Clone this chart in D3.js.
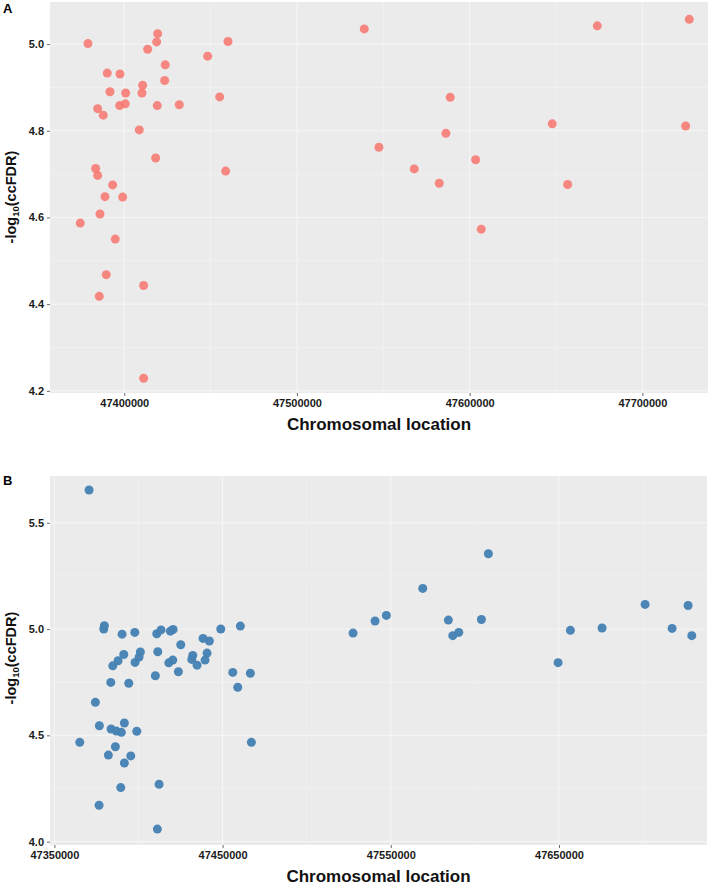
<!DOCTYPE html>
<html><head><meta charset="utf-8">
<script src="https://cdn.jsdelivr.net/npm/d3@7"></script>
<style>html,body{margin:0;padding:0;background:#fff;}svg{display:block;font-family:"Liberation Sans",Arial,sans-serif;}</style>
</head><body>
<svg id="chart" width="711" height="885"></svg>
<script>
// Panel A data
const aPos = [47378980,47419340,47418760,47413550,47460040,47448290,47423740,47390160,47397510,47423390,
  47410650,47391720,47400810,47410250,47455240,47384600,47397340,47400580,47419110,47431850,
  47387840,47408690,47418180,47458710,47383440,47384600,47393280,47388830,47399070,47385930,
  47374520,47394790,47389580,47411230,47385520,47411230,
  47538960,47673890,47727140,47588760,47647820,47725050,47586260,47547470,47603460,47567900,
  47582390,47656740,47606710];
const aVal = [5.001,5.024,5.005,4.988,5.006,4.972,4.952,4.933,4.931,4.916,
  4.905,4.890,4.887,4.887,4.878,4.851,4.858,4.862,4.858,4.860,
  4.836,4.802,4.737,4.707,4.713,4.697,4.675,4.648,4.647,4.608,
  4.587,4.550,4.468,4.443,4.418,4.229,
  5.035,5.042,5.057,4.877,4.816,4.811,4.794,4.762,4.733,4.712,
  4.679,4.676,4.573];
// Panel B data
const bPos = [47370630,47379730,47379370,47390250,47397800,47410880,47413430,47418960,47420570,47448930,
  47460580,47425140,47438400,47442150,47411480,47391260,47401130,47440780,47387870,47384720,
  47400350,47397980,47418010,47420390,47432280,47431680,47434830,47439590,47423720,47410040,
  47383530,47394230,47456060,47466520,47459030,47374380,47376750,47383710,47386860,47389830,
  47391610,47398990,47365100,47386270,47382100,47395420,47391610,47389470,47412250,47376570,
  47411240,47467120,
  47527580,47540650,47547380,47569000,47584240,47586850,47590420,47603870,47608030,47649480,
  47656790,47675620,47701200,47717250,47726760,47728960];
const bVal = [5.654,5.016,5.000,4.976,4.984,4.978,4.996,4.990,4.998,5.000,
  5.014,4.926,4.956,4.944,4.893,4.880,4.892,4.887,4.851,4.827,
  4.868,4.843,4.841,4.854,4.876,4.857,4.830,4.854,4.799,4.780,
  4.749,4.745,4.796,4.792,4.726,4.655,4.545,4.530,4.520,4.514,
  4.558,4.519,4.467,4.446,4.407,4.403,4.370,4.254,4.270,4.171,
  4.059,4.467,
  4.981,5.038,5.064,5.191,5.042,4.969,4.984,5.045,5.354,4.842,
  4.994,5.005,5.116,5.003,5.111,4.969];
// Ticks
const aXTicks = [47400000,47500000,47600000,47700000];
const aXMinor = [47450000,47550000,47650000];
const aYTicks = [4.2,4.4,4.6,4.8,5.0];
const aYMinor = [4.3,4.5,4.7,4.9];
const bXTicks = [47350000,47450000,47550000,47650000];
const bXMinor = [47400000,47500000,47600000,47700000];
const bYTicks = [4.0,4.5,5.0,5.5];
const bYMinor = [4.25,4.75,5.25];

const svg = d3.select("#chart");

function panel(o){
  const g = svg.append("g");
  const x = d3.scaleLinear().domain(o.xDomain).range([o.left,o.right]);
  const y = d3.scaleLinear().domain(o.yDomain).range([o.bottom,o.top]);
  g.append("rect").attr("x",o.left).attr("y",o.top).attr("width",o.right-o.left).attr("height",o.bottom-o.top).attr("fill","#EBEBEB");
  // minor grid
  g.selectAll(".mx").data(o.xMinor).enter().append("line")
    .attr("x1",d=>x(d)).attr("x2",d=>x(d)).attr("y1",o.top).attr("y2",o.bottom)
    .attr("stroke","#f6f6f6").attr("stroke-width",0.5);
  g.selectAll(".my").data(o.yMinor).enter().append("line")
    .attr("y1",d=>y(d)).attr("y2",d=>y(d)).attr("x1",o.left).attr("x2",o.right)
    .attr("stroke","#f6f6f6").attr("stroke-width",0.5);
  // major grid
  g.selectAll(".gx").data(o.xTicks).enter().append("line")
    .attr("x1",d=>x(d)).attr("x2",d=>x(d)).attr("y1",o.top).attr("y2",o.bottom)
    .attr("stroke","#f9f9f9").attr("stroke-width",0.8);
  g.selectAll(".gy").data(o.yTicks).enter().append("line")
    .attr("y1",d=>y(d)).attr("y2",d=>y(d)).attr("x1",o.left).attr("x2",o.right)
    .attr("stroke","#f9f9f9").attr("stroke-width",0.8);
  // axes
  const xa = g.append("g").attr("transform",`translate(0,${o.bottom})`)
    .call(d3.axisBottom(x).tickValues(o.xTicks).tickFormat(d3.format("d")).tickSize(3).tickPadding(3));
  const ya = g.append("g").attr("transform",`translate(${o.left},0)`)
    .call(d3.axisLeft(y).tickValues(o.yTicks).tickFormat(d3.format(".1f")).tickSize(3).tickPadding(3));
  [xa,ya].forEach(a=>{
    a.select(".domain").remove();
    a.selectAll(".tick line").attr("stroke","#444").attr("stroke-width",0.8);
    a.selectAll(".tick text").attr("fill","#1a1a1a").style("font-size","11px").style("font-weight","bold")
      .style("font-family","'Liberation Sans',Arial,sans-serif");
  });
  // points
  g.selectAll("circle").data(o.pos).enter().append("circle")
    .attr("cx",d=>x(d)).attr("cy",(d,i)=>y(o.val[i])).attr("r",4.5)
    .attr("fill",o.color).attr("fill-opacity",o.alpha);
  // titles
  g.append("text").attr("x",(o.left+o.right)/2).attr("y",o.bottom+37)
    .attr("text-anchor","middle").style("font-size","17px").style("font-weight","bold").attr("fill","#111")
    .text("Chromosomal location");
  const yt = g.append("text").attr("transform",`translate(16,${o.yTitleC}) rotate(-90)`)
    .attr("text-anchor","middle").style("font-size","14.5px").style("font-weight","bold").attr("fill","#111");
  yt.append("tspan").text("-log");
  yt.append("tspan").text("10").style("font-size","9.5px").attr("dy","3");
  yt.append("tspan").text("(ccFDR)").attr("dy","-3");
  g.append("text").attr("x",3).attr("y",o.labelY).style("font-size","13px").style("font-weight","bold")
    .attr("fill","#000").text(o.label);
}

panel({left:50,right:708,top:2,bottom:393,xDomain:[47357000,47738000],yDomain:[4.195,5.097],
  xTicks:aXTicks,xMinor:aXMinor,yTicks:aYTicks,yMinor:aYMinor,pos:aPos,val:aVal,
  color:"#F8766D",alpha:0.85,label:"A",labelY:13,yTitleC:197});
panel({left:50,right:707,top:476,bottom:845,xDomain:[47347400,47738000],yDomain:[3.984,5.72],
  xTicks:bXTicks,xMinor:bXMinor,yTicks:bYTicks,yMinor:bYMinor,pos:bPos,val:bVal,
  color:"#4682B4",alpha:0.97,label:"B",labelY:485,yTitleC:658});
</script>
</body></html>
